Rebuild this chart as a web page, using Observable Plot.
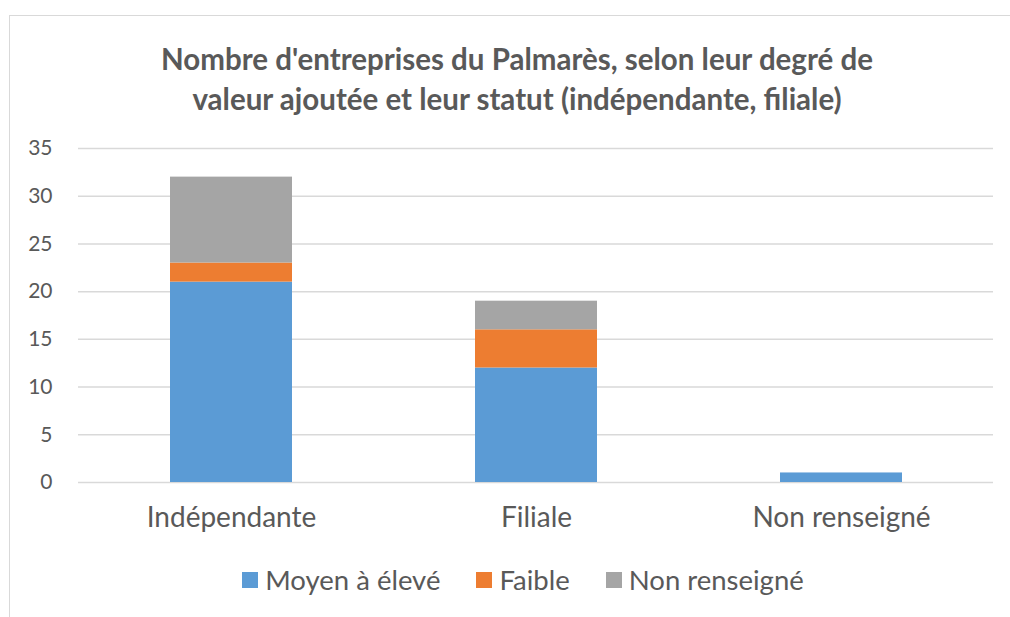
<!DOCTYPE html>
<html>
<head>
<meta charset="utf-8">
<script src="https://cdn.jsdelivr.net/npm/d3@7"></script>
<script src="https://cdn.jsdelivr.net/npm/@observablehq/plot@0.6"></script>
<style>
  html, body { margin: 0; padding: 0; background: #fff; }
  body { width: 1010px; height: 617px; position: relative; overflow: hidden; font-family: Lato, "Open Sans", sans-serif; color: #595959; }
  #frame { position: absolute; left: 9px; top: 15px; width: 1010px; height: 640px; border: 1.5px solid #d9d9d9; box-sizing: border-box; }
  #title { position: absolute; left: 0; top: 39px; width: 1034px; text-align: center; font-weight: bold; font-size: 29.5px; line-height: 40px; color: #595959; }
  #chart { position: absolute; left: 0; top: 120px; }
  #legend { position: absolute; left: 0; top: 563px; width: 1046px; display: flex; justify-content: center; align-items: center; font-size: 27.5px; color: #595959; }
  .item { display: flex; align-items: center; margin: 0 18px; }
  .sw { width: 16px; height: 16px; margin-right: 7px; }
</style>
</head>
<body>
<div id="frame"></div>
<div id="title">Nombre d'entreprises du Palmarès, selon leur degré de<br>valeur ajoutée et leur statut (indépendante, filiale)</div>
<div id="chart"></div>
<div id="legend"></div>
<script>
const categories = ["Indépendante", "Filiale", "Non renseigné"];
const seriesNames = ["Moyen à élevé", "Faible", "Non renseigné"];
const moyenEleve = [21, 12, 1];
const faible = [2, 4, 0];
const nonRenseigne = [9, 3, 0];
const seriesColors = ["#5B9BD5", "#ED7D31", "#A5A5A5"];
const yTicks = [0, 5, 10, 15, 20, 25, 30, 35];

const seriesValues = [moyenEleve, faible, nonRenseigne];
const data = [];
seriesNames.forEach((s, si) => {
  categories.forEach((c, ci) => {
    data.push({category: c, series: s, value: seriesValues[si][ci]});
  });
});

const chart = Plot.plot({
  width: 1010,
  height: 422,
  marginLeft: 78,
  marginRight: 17,
  marginTop: 28,
  marginBottom: 60,
  style: {fontFamily: "Lato, 'Open Sans', sans-serif", color: "#595959", background: "transparent"},
  x: {domain: categories, paddingInner: 0.6, paddingOuter: 0.3, axis: null},
  y: {domain: [0, 35], axis: null},
  color: {domain: seriesNames, range: seriesColors},
  marks: [
    Plot.gridY(yTicks, {stroke: "#d9d9d9", strokeOpacity: 1, strokeWidth: 1.5}),
    Plot.barY(data, {x: "category", y: "value", fill: "series", order: seriesNames}),
    Plot.axisY(yTicks, {tickSize: 0, tickPadding: 26, fontSize: 21, color: "#595959", tickFormat: d => String(d), label: null}),
    Plot.axisX(categories, {tickSize: 0, tickPadding: 25, fontSize: 28, color: "#595959", label: null})
  ]
});
document.getElementById("chart").appendChild(chart);

const legend = document.getElementById("legend");
seriesNames.forEach((s, i) => {
  const item = document.createElement("div");
  item.className = "item";
  const sw = document.createElement("div");
  sw.className = "sw";
  sw.style.background = seriesColors[i];
  const label = document.createElement("span");
  label.textContent = s;
  item.appendChild(sw);
  item.appendChild(label);
  legend.appendChild(item);
});
</script>
</body>
</html>
